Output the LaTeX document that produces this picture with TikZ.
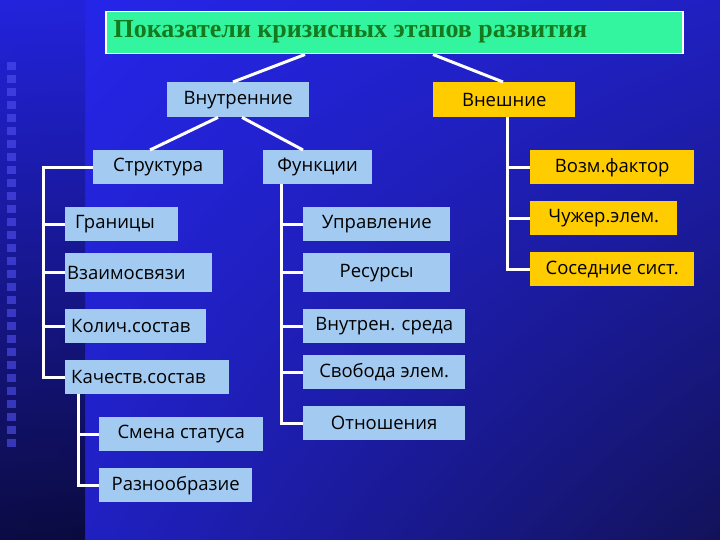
\documentclass[tikz,border=0pt]{standalone}
\usepackage{fontspec}
\usetikzlibrary{shadings}
\setmainfont{Open Sans}
\newfontfamily\titlefont{Liberation Serif}
\definecolor{lb}{HTML}{A3CBF2}
\definecolor{og}{HTML}{FFCC00}
\definecolor{mint}{HTML}{33F5A0}
\definecolor{dg}{HTML}{157A1E}
\definecolor{bgA}{HTML}{2626EE}
\definecolor{bgB}{HTML}{12125A}
\begin{document}
\begin{tikzpicture}[x=1pt,y=-1pt,
  bx/.style={anchor=north west,inner sep=0pt,font=\fontsize{18.5}{20}\selectfont,text=black},
  lb/.style={bx,fill=lb},
  ob/.style={bx,fill=og},
  wl/.style={draw=white,line width=3pt}]
\useasboundingbox (0,0) rectangle (720,540);
\shade[upper left=bgA,upper right=bgA!70!bgB,lower left=bgA!80!bgB,lower right=bgB] (0,0) rectangle (720,540);
\shade[top color=bgA!90!black,bottom color=black!90!bgB,opacity=0.7] (0,0) rectangle (85,540);
\foreach \i in {0,...,29} \fill[bgA!80!white,opacity=0.6] (7,{62+13*\i}) rectangle (16,{70+13*\i});
% title
\node[anchor=north west,fill=mint,draw=white,line width=1.5pt,minimum width=577pt,minimum height=42pt,inner sep=0pt] (t) at (105,11) {};
\node[anchor=west,text=dg,font=\titlefont\bfseries\fontsize{26}{28}\selectfont] (tt) at (110,32) {Показатели кризисных этапов развития};
% level 1
\node[lb,minimum width=142pt,minimum height=35pt] (vn) at (167,82) {Внутренние};
\node[ob,minimum width=142pt,minimum height=35pt] (ve) at (433,82) {Внешние};
% level 2
\node[lb,minimum width=130pt,minimum height=34pt] (st) at (93,150) {Структура};
\node[lb,minimum width=109pt,minimum height=34pt] (fu) at (263,150) {Функции};
\node[ob,minimum width=164pt,minimum height=34pt] (vf) at (530,150) {Возм.фактор};
% structure children
\node[lb,minimum width=113pt,minimum height=34pt,text width=113pt,align=left] (gr) at (65,207) {\hspace*{10pt}Границы};
\node[lb,minimum width=147pt,minimum height=39pt,text width=147pt,align=left] (vz) at (65,253) {\hspace*{2pt}Взаимосвязи};
\node[lb,minimum width=141pt,minimum height=34pt,text width=141pt,align=left] (ko) at (65,309) {\hspace*{6pt}Колич.состав};
\node[lb,minimum width=164pt,minimum height=34pt,text width=164pt,align=left] (ka) at (65,360) {\hspace*{6pt}Качеств.состав};
\node[lb,minimum width=164pt,minimum height=34pt] (sm) at (99,417) {Смена статуса};
\node[lb,minimum width=153pt,minimum height=34pt] (ra) at (99,468) {Разнообразие};
% function children
\node[lb,minimum width=147pt,minimum height=34pt] (up) at (303,207) {Управление};
\node[lb,minimum width=147pt,minimum height=39pt] (re) at (303,253) {Ресурсы};
\node[lb,minimum width=162pt,minimum height=34pt] (vs) at (303,309) {Внутрен. среда};
\node[lb,minimum width=162pt,minimum height=34pt] (sv) at (303,355) {Свобода элем.};
\node[lb,minimum width=162pt,minimum height=34pt] (ot) at (303,406) {Отношения};
% external children
\node[ob,minimum width=147pt,minimum height=34pt] (cz) at (530,201) {Чужер.элем.};
\node[ob,minimum width=164pt,minimum height=34pt] (so) at (530,252) {Соседние сист.};
% connectors
\draw[wl] (t.south west)++(200,0) -- ([xshift=66pt]vn.north west);
\draw[wl] (t.south west)++(328,0) -- ([xshift=70pt]ve.north west);
\draw[wl] ([xshift=51pt]vn.south west) -- ([xshift=57pt]st.north west);
\draw[wl] ([xshift=75pt]vn.south west) -- ([xshift=40pt]fu.north west);
\draw[wl] (st.west) -| (43,0 |- ka.west) -- (ka.west);
\foreach \n in {gr,vz,ko} \draw[wl] (\n.west) -- (43,0 |- \n.west);
\draw[wl] ([xshift=13pt]ka.south west) |- (ra.west);
\draw[wl] (78,0 |- sm.west) -- (sm.west);
\draw[wl] ([xshift=18pt]fu.south west) |- (ot.west);
\foreach \n in {up,re,vs,sv} \draw[wl] (\n.west) -- (281,0 |- \n.west);
\draw[wl] ([xshift=74pt]ve.south west) |- (so.west);
\foreach \n in {vf,cz} \draw[wl] (\n.west) -- (507,0 |- \n.west);
\end{tikzpicture}
\end{document}
